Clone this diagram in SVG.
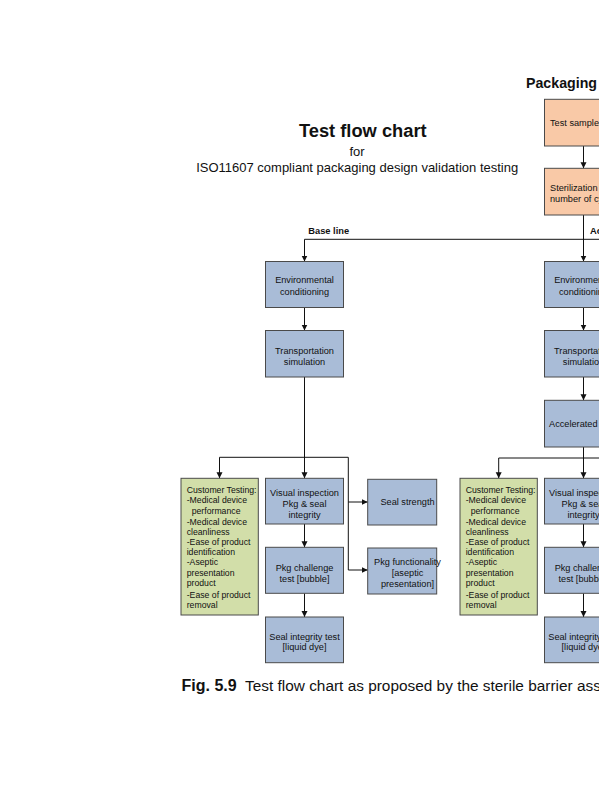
<svg xmlns="http://www.w3.org/2000/svg" width="599" height="800" viewBox="0 0 599 800">
<style>
.b{fill:#a9bcd7;stroke:#4a4a4a;stroke-width:1}
.g{fill:#d2dea9;stroke:#4a4a4a;stroke-width:1}
.o{fill:#f9c9a7;stroke:#4a4a4a;stroke-width:1}
.t{font-family:"Liberation Sans",Arial,sans-serif;font-size:9.2px;fill:#111;text-anchor:middle}
.l{font-family:"Liberation Sans",Arial,sans-serif;font-size:8.7px;fill:#111}
.c{fill:none;stroke:#111;stroke-width:1}
</style>
<defs>
<marker id="ah" markerUnits="userSpaceOnUse" markerWidth="7" markerHeight="7" refX="6" refY="3" orient="auto">
<path d="M0,0 L6,3 L0,6 z" fill="#111"/>
</marker>
</defs>
<rect width="599" height="800" fill="#fff"/>
<g id="titles" font-family="'Liberation Sans',Arial,sans-serif" fill="#111">
<text x="362.8" y="136.5" font-size="18.3" font-weight="bold" text-anchor="middle">Test flow chart</text>
<text x="357" y="156" font-size="13" text-anchor="middle">for</text>
<text x="357.2" y="171.5" font-size="13" text-anchor="middle">ISO11607 compliant packaging design validation testing</text>
<text x="526" y="87.5" font-size="14.2" font-weight="bold">Packaging</text>
<text x="308.3" y="233.5" font-size="9.3" font-weight="bold">Base line</text>
<text x="590" y="233.5" font-size="9.3" font-weight="bold">Ac</text>
</g>
<g id="connectors" class="c">
<line x1="583.5" y1="146" x2="583.5" y2="168.3" marker-end="url(#ah)"/>
<line x1="583.5" y1="215" x2="583.5" y2="261.5" marker-end="url(#ah)"/>
<line x1="583.5" y1="239.3" x2="610" y2="239.3"/>
<polyline points="583.5,239.3 304.5,239.3 304.5,261.5" marker-end="url(#ah)"/>
<line x1="304.5" y1="307.5" x2="304.5" y2="330.5" marker-end="url(#ah)"/>
<line x1="304.5" y1="377" x2="304.5" y2="478.3" marker-end="url(#ah)"/>
<line x1="219.5" y1="457.3" x2="348.3" y2="457.3"/>
<line x1="219.5" y1="457.3" x2="219.5" y2="478.3" marker-end="url(#ah)"/>
<line x1="348.3" y1="457.3" x2="348.3" y2="570"/>
<line x1="348.3" y1="502" x2="367.7" y2="502" marker-end="url(#ah)"/>
<line x1="348.3" y1="570" x2="367.7" y2="570" marker-end="url(#ah)"/>
<line x1="304.5" y1="524" x2="304.5" y2="547.3" marker-end="url(#ah)"/>
<line x1="304.5" y1="593.3" x2="304.5" y2="617" marker-end="url(#ah)"/>
<line x1="583.5" y1="307.5" x2="583.5" y2="330.5" marker-end="url(#ah)"/>
<line x1="583.5" y1="377" x2="583.5" y2="400.3" marker-end="url(#ah)"/>
<line x1="583.5" y1="447" x2="583.5" y2="478.3" marker-end="url(#ah)"/>
<line x1="498.7" y1="458" x2="610" y2="458"/>
<line x1="498.7" y1="458" x2="498.7" y2="478.3" marker-end="url(#ah)"/>
<line x1="583.5" y1="524" x2="583.5" y2="547.3" marker-end="url(#ah)"/>
<line x1="583.5" y1="593.3" x2="583.5" y2="617" marker-end="url(#ah)"/>
</g>
<g id="test-sample"><rect class="o" x="544.5" y="99.3" width="78" height="46.7"/><text class="t" x="550" y="125.5" style="text-anchor:start">Test sample</text></g>
<g id="sterilization"><rect class="o" x="544.5" y="168.3" width="78" height="46.7"/><text class="t" x="550" y="191" style="text-anchor:start">Sterilization [</text><text class="t" x="550" y="201.5" style="text-anchor:start">number of cy</text></g>
<g id="env-base"><rect class="b" x="265.5" y="261.5" width="78" height="46"/><text class="t" x="304.5" y="282.5">Environmental</text><text class="t" x="304.5" y="294.5">conditioning</text></g>
<g id="transport-base"><rect class="b" x="265.5" y="330.5" width="78" height="46.5"/><text class="t" x="304.5" y="354">Transportation</text><text class="t" x="304.5" y="365">simulation</text></g>
<g id="customer-base"><rect class="g" x="181" y="478.3" width="77.3" height="136.7"/>
<text class="l" x="186.7" y="492.5">Customer Testing:</text>
<text class="l" x="186.7" y="503">-Medical device</text>
<text class="l" x="191.7" y="514.3">performance</text>
<text class="l" x="186.7" y="525.3">-Medical device</text>
<text class="l" x="186.7" y="534.7">cleanliness</text>
<text class="l" x="186.7" y="544.7">-Ease of product</text>
<text class="l" x="186.7" y="554.7">identification</text>
<text class="l" x="186.7" y="565">-Aseptic</text>
<text class="l" x="186.7" y="575.7">presentation</text>
<text class="l" x="186.7" y="585.7">product</text>
<text class="l" x="186.7" y="598">-Ease of product</text>
<text class="l" x="186.7" y="608">removal</text>
</g>
<g id="visual-base"><rect class="b" x="265.5" y="478.3" width="78" height="45.7"/><text class="t" x="304.5" y="495.5">Visual inspection</text><text class="t" x="304.5" y="506.5">Pkg &amp; seal</text><text class="t" x="304.5" y="517.5">integrity</text></g>
<g id="challenge-base"><rect class="b" x="265.5" y="547.3" width="78" height="46"/><text class="t" x="304.5" y="571">Pkg challenge</text><text class="t" x="304.5" y="582">test [bubble]</text></g>
<g id="sealint-base"><rect class="b" x="265.5" y="617" width="78" height="45.7"/><text class="t" x="304.5" y="639.5">Seal integrity test</text><text class="t" x="304.5" y="650">[liquid dye]</text></g>
<g id="seal-strength"><rect class="b" x="367.7" y="479.3" width="69" height="45.7"/><text class="t" x="407.5" y="505">Seal strength</text></g>
<g id="pkg-functionality"><rect class="b" x="367.7" y="548" width="69" height="46"/><text class="t" x="407.5" y="565">Pkg functionality</text><text class="t" x="407.5" y="576">[aseptic</text><text class="t" x="407.5" y="587">presentation]</text></g>
<g id="env-acc"><rect class="b" x="544.5" y="261.5" width="78" height="46"/><text class="t" x="583.5" y="282.5">Environmental</text><text class="t" x="583.5" y="294.5">conditioning</text></g>
<g id="transport-acc"><rect class="b" x="544.5" y="330.5" width="78" height="46.5"/><text class="t" x="583.5" y="354">Transportation</text><text class="t" x="583.5" y="365">simulation</text></g>
<g id="accelerated"><rect class="b" x="544.5" y="400.3" width="78" height="46.7"/><text class="t" x="549" y="427" style="text-anchor:start">Accelerated</text></g>
<g id="customer-acc"><rect class="g" x="460" y="478.3" width="77.3" height="136.7"/>
<text class="l" x="465.7" y="492.5">Customer Testing:</text>
<text class="l" x="465.7" y="503">-Medical device</text>
<text class="l" x="470.7" y="514.3">performance</text>
<text class="l" x="465.7" y="525.3">-Medical device</text>
<text class="l" x="465.7" y="534.7">cleanliness</text>
<text class="l" x="465.7" y="544.7">-Ease of product</text>
<text class="l" x="465.7" y="554.7">identification</text>
<text class="l" x="465.7" y="565">-Aseptic</text>
<text class="l" x="465.7" y="575.7">presentation</text>
<text class="l" x="465.7" y="585.7">product</text>
<text class="l" x="465.7" y="598">-Ease of product</text>
<text class="l" x="465.7" y="608">removal</text>
</g>
<g id="visual-acc"><rect class="b" x="544.5" y="478.3" width="78" height="45.7"/><text class="t" x="583.5" y="495.5">Visual inspection</text><text class="t" x="583.5" y="506.5">Pkg &amp; seal</text><text class="t" x="583.5" y="517.5">integrity</text></g>
<g id="challenge-acc"><rect class="b" x="544.5" y="547.3" width="78" height="46"/><text class="t" x="583.5" y="571">Pkg challenge</text><text class="t" x="583.5" y="582">test [bubble]</text></g>
<g id="sealint-acc"><rect class="b" x="544.5" y="617" width="78" height="45.7"/><text class="t" x="583.5" y="639.5">Seal integrity test</text><text class="t" x="583.5" y="650">[liquid dye]</text></g>
<g id="caption" font-family="'Liberation Sans',Arial,sans-serif" font-size="15.4" fill="#111">
<text x="181.5" y="691"><tspan font-weight="bold" font-size="16">Fig. 5.9</tspan><tspan x="245">Test flow chart as proposed by the sterile barrier ass</tspan></text>
</g>
</svg>
